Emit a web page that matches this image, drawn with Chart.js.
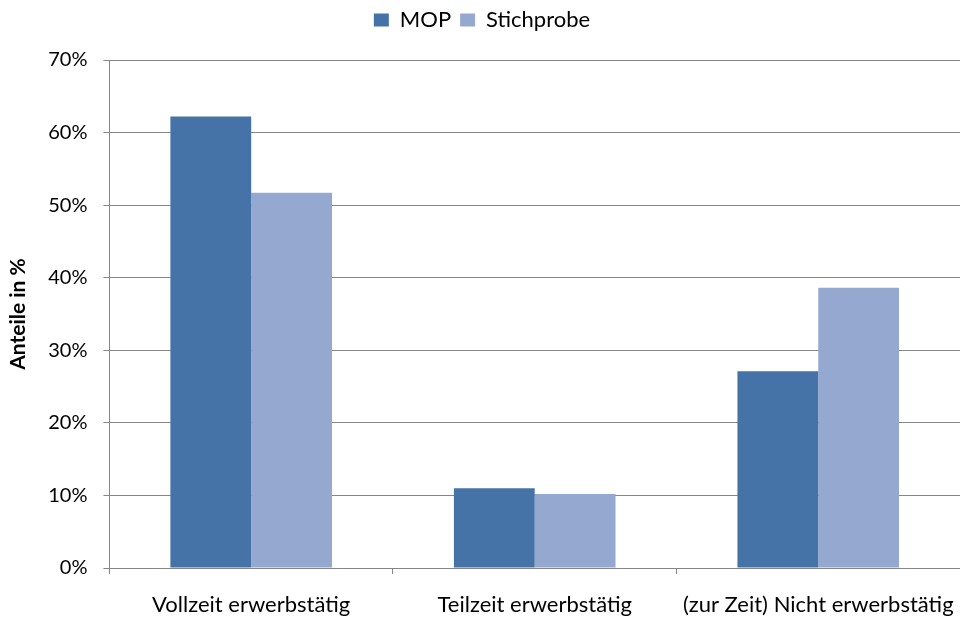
<!DOCTYPE html>
<html>
<head>
<meta charset="utf-8">
<script src="https://cdn.jsdelivr.net/npm/chart.js@4"></script>
<style>
  html, body { margin: 0; padding: 0; background: #ffffff; }
  #wrap { width: 960px; height: 619px; }
</style>
</head>
<body>
<div id="wrap"><canvas id="chart"></canvas></div>
<script>
const categories = ["Vollzeit erwerbstätig", "Teilzeit erwerbstätig", "(zur Zeit) Nicht erwerbstätig"];
const mopValues = [62.2, 11.0, 27.1];
const sampleValues = [51.7, 10.2, 38.6];
const yTicks = [0, 10, 20, 30, 40, 50, 60, 70];

const fontFamily = "Lato, 'Open Sans', sans-serif";
const axisGray = "#868686";

// leave some empty room between the legend and the plot area
const legendGap = {
    id: "legendGap",
    beforeLayout(chart, args, options) {
        const legend = chart.legend;
        if (!legend || legend._gapPatched) return;
        const fit = legend.fit;
        legend.fit = function () {
            fit.call(this);
            this.height += options.extra || 0;
        };
        legend._gapPatched = true;
    }
};

new Chart(document.getElementById("chart"), {
    type: "bar",
    data: {
        labels: categories,
        datasets: [
            {
                label: "MOP",
                data: mopValues,
                backgroundColor: "#4673a7",
                categoryPercentage: 0.57,
                barPercentage: 1.0
            },
            {
                label: "Stichprobe",
                data: sampleValues,
                backgroundColor: "#95a9d0",
                categoryPercentage: 0.57,
                barPercentage: 1.0
            }
        ]
    },
    plugins: [legendGap],
    options: {
        responsive: true,
        maintainAspectRatio: false,
        animation: false,
        layout: { padding: { left: 4, right: 0, top: 0, bottom: 0 } },
        plugins: {
            legend: {
                position: "top",
                labels: {
                    boxWidth: 15,
                    boxHeight: 13,
                    padding: 9,
                    color: "#000",
                    font: { family: fontFamily, size: 22 }
                }
            },
            legendGap: { extra: 19 },
            tooltip: { enabled: false }
        },
        scales: {
            x: {
                afterFit: axis => {
                    axis.paddingLeft = 0;
                    axis.paddingRight = 0;
                    axis.height = 51;
                },
                grid: {
                    display: true,
                    drawOnChartArea: false,
                    color: axisGray,
                    tickLength: 6,
                    offset: true
                },
                border: { color: axisGray, width: 1 },
                ticks: {
                    color: "#000",
                    padding: 18,
                    maxRotation: 0,
                    font: { family: fontFamily, size: 22 }
                }
            },
            y: {
                min: 0,
                max: 70,
                afterBuildTicks: axis => {
                    axis.ticks = yTicks.map(v => ({ value: v }));
                },
                grid: {
                    color: axisGray,
                    tickLength: 6
                },
                border: { color: axisGray, width: 1 },
                ticks: {
                    color: "#000",
                    padding: 16,
                    font: { family: fontFamily, size: 20 },
                    callback: value => `${value}%`
                },
                title: {
                    display: true,
                    text: "Anteile in %",
                    color: "#000",
                    padding: { top: 2, bottom: 1 },
                    font: { family: fontFamily, size: 21, weight: "bold" }
                }
            }
        }
    }
});
</script>
</body>
</html>
